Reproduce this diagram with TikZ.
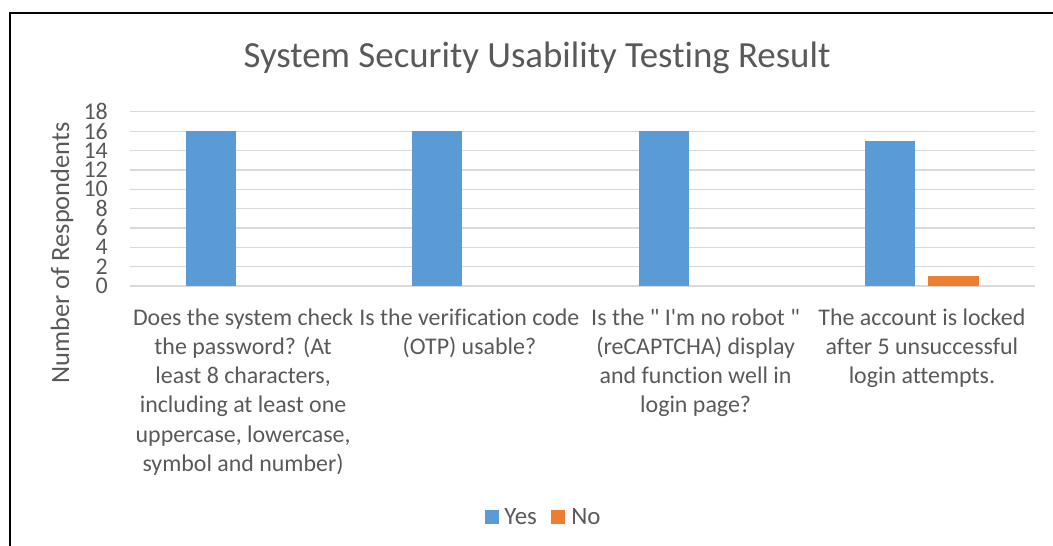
\documentclass[tikz,border=0pt]{standalone}
\usepackage{fontspec}
\usepackage{xcolor}
\usetikzlibrary{positioning}
\newfontfamily\chartfont{Carlito}[Ligatures={NoCommon}]
\definecolor{yesblue}{HTML}{5B9BD5}
\definecolor{noorange}{HTML}{ED7D31}
\definecolor{gridgray}{HTML}{D9D9D9}
\definecolor{inkgray}{HTML}{595959}

\begin{document}
\begin{tikzpicture}
        [x=1bp,y=-1bp,
          gridline/.style={draw=gridgray,line width=1.3bp},
          yesbar/.style={fill=yesblue},
          nobar/.style={fill=noorange},
          chartlabel/.style={text=inkgray,inner sep=0pt,font=\chartfont\fontsize{24}{29.3}\selectfont},
          catlabel/.style={chartlabel,align=center,anchor=north},
          ticklabel/.style={chartlabel,anchor=east},
          legendkey/.style={fill=#1,minimum size=14bp,inner sep=0pt}]
        \useasboundingbox (0,0) rectangle (1053,546);
        % frame of the chart area
        \draw[line width=1.3bp] (1053,13) -- (10,13) -- (10,546);

        \node[chartlabel,anchor=base,font=\chartfont\fontsize{37}{44}\selectfont] (title) at (537,68)
          {System Security Usability Testing Result};

        % value axis: grid lines and tick values
        \foreach \v in {0,2,...,18} {
          \draw[gridline] (130,286-\v*9.675) -- (1035,286-\v*9.675);
          \node[ticklabel] (tick-\v) at (108,286-\v*9.675) {\v};
        }
        \node[chartlabel,rotate=90,font=\chartfont\fontsize{26.5}{32}\selectfont] (ylabel) at (62,253)
          {Number of Respondents};

        % bars, one group per question
        \foreach \yes/\no [count=\i] in {16/0,16/0,16/0,15/1} {
          \fill[yesbar] (130+\i*226.25-113.1-57,286) rectangle (130+\i*226.25-113.1-7,286-\yes*9.675);
          \ifnum\no>0
            \fill[nobar] (130+\i*226.25-113.1+6,286) rectangle (130+\i*226.25-113.1+57,286-\no*9.675);
          \fi
        }

        \node[catlabel] (cat-1) at (243.1,308.5) {Does the system check\\the password? (At\\least 8 characters,\\including at least one\\uppercase, lowercase,\\symbol and number)};
        \node[catlabel] (cat-2) at (469.4,308.5) {Is the verification code\\(OTP) usable?};
        \node[catlabel] (cat-3) at (695.6,308.5) {Is the " I'm no robot "\\(reCAPTCHA) display\\and function well in\\login page?};
        \node[catlabel] (cat-4) at (921.9,308.5) {The account is locked\\after 5 unsuccessful\\login attempts.};

        % legend
        \node[legendkey=yesblue] (key-yes) at (492,517) {};
        \node[chartlabel,anchor=west,right=5bp of key-yes,font=\chartfont\fontsize{25}{30}\selectfont] (text-yes) {Yes};
        \node[legendkey=noorange] (key-no) at (558,517) {};
        \node[chartlabel,anchor=west,right=6bp of key-no,font=\chartfont\fontsize{25}{30}\selectfont] (text-no) {No};
\end{tikzpicture}
\end{document}
